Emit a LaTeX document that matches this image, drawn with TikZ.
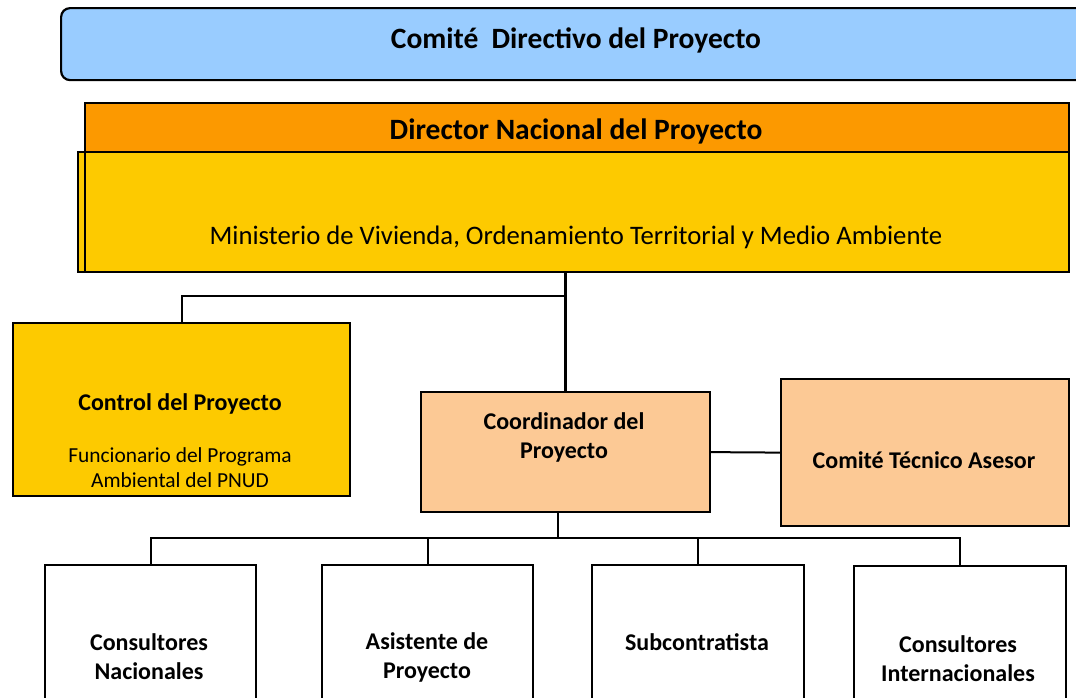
\documentclass[tikz,border=0pt]{standalone}
\usepackage{fontspec}
\setmainfont{Carlito}
\definecolor{cblue}{HTML}{99CCFF}
\definecolor{corange}{HTML}{FC9900}
\definecolor{cyellow}{HTML}{FDCA00}
\definecolor{cpeach}{HTML}{FCC995}
\begin{document}
\begin{tikzpicture}[x=1pt,y=-1pt,
  box/.style={draw=black, line width=2.2pt, inner sep=0pt, anchor=north west},
  conn/.style={draw=black, line width=2pt},
  big/.style={font=\fontsize{29.5}{34}\selectfont\bfseries},
  mid/.style={font=\fontsize{24}{29}\selectfont\bfseries, align=center},
  reg/.style={font=\fontsize{21.4}{25}\selectfont, align=center},
  txt/.style={inner sep=0pt}]
\useasboundingbox (0,0) rectangle (1076,697);
\clip (0,0) rectangle (1076,697);
% top committee
\node[box, fill=cblue, rounded corners=9pt, minimum width=1040pt, minimum height=72pt] (cdp) at (60,7) {};
\node[txt, big] (cdpt) at (576,40) {Comité\ \ Directivo del Proyecto};
% director
\node[box, fill=cyellow, minimum width=991pt, minimum height=120pt] (min) at (77,151) {};
\node[box, minimum width=984pt, minimum height=169pt] (dirframe) at (84,102) {};
\node[box, fill=corange, minimum width=984pt, minimum height=49pt] (dir) at (84,102) {};
\node[txt, big] (dirt) at (576,131) {Director Nacional del Proyecto};
\node[txt, font=\fontsize{26.7}{32}\selectfont] (mint) at (576,237) {Ministerio de Vivienda, Ordenamiento Territorial y Medio Ambiente};
% control
\node[box, fill=cyellow, minimum width=337pt, minimum height=173pt] (ctrl) at (12,322) {};
\node[txt, mid] (ctrlt) at (180,404) {Control del Proyecto};
\node[txt, reg] (ctrls) at (180,468) {Funcionario del Programa\\Ambiental del PNUD};
% coordinator
\node[box, fill=cpeach, minimum width=289pt, minimum height=120pt] (coord) at (420,391) {};
\node[txt, mid] (coordt) at (564,437) {Coordinador del\\Proyecto};
% technical committee
\node[box, fill=cpeach, minimum width=288pt, minimum height=147pt] (tech) at (780,378) {};
\node[txt, mid] (techt) at (924,460) {Comité Técnico Asesor};
% bottom row
\node[box, fill=white, minimum width=211pt, minimum height=160pt] (cn) at (44,564) {};
\node[txt, mid] (cnt) at (149,657) {Consultores\\Nacionales};
\node[box, fill=white, minimum width=211pt, minimum height=160pt] (ap) at (321,564) {};
\node[txt, mid] (apt) at (427,657) {Asistente de\\Proyecto};
\node[box, fill=white, minimum width=212pt, minimum height=160pt] (sub) at (591,564) {};
\node[txt, mid] (subt) at (697,642) {Subcontratista};
\node[box, fill=white, minimum width=212pt, minimum height=160pt] (ci) at (853,565) {};
\node[txt, mid] (cit) at (958,659) {Consultores\\Internacionales};
% connectors
\coordinate (j1) at (564.5,296);
\coordinate (j2) at (558,538);
\draw[conn, line width=2.6pt] (coord.north) -- (coord.north |- min.south);
\draw[conn] (ctrl.north) |- (j1);
\draw[conn] (coord.east) -- (tech.west);
\draw[conn] (coord.south -| j2) -- (j2);
\draw[conn] (cn.north) |- (j2);
\draw[conn] (ci.north) |- (j2);
\draw[conn] (ap.north) -- (ap.north |- j2);
\draw[conn] (sub.north) -- (sub.north |- j2);
\end{tikzpicture}
\end{document}
